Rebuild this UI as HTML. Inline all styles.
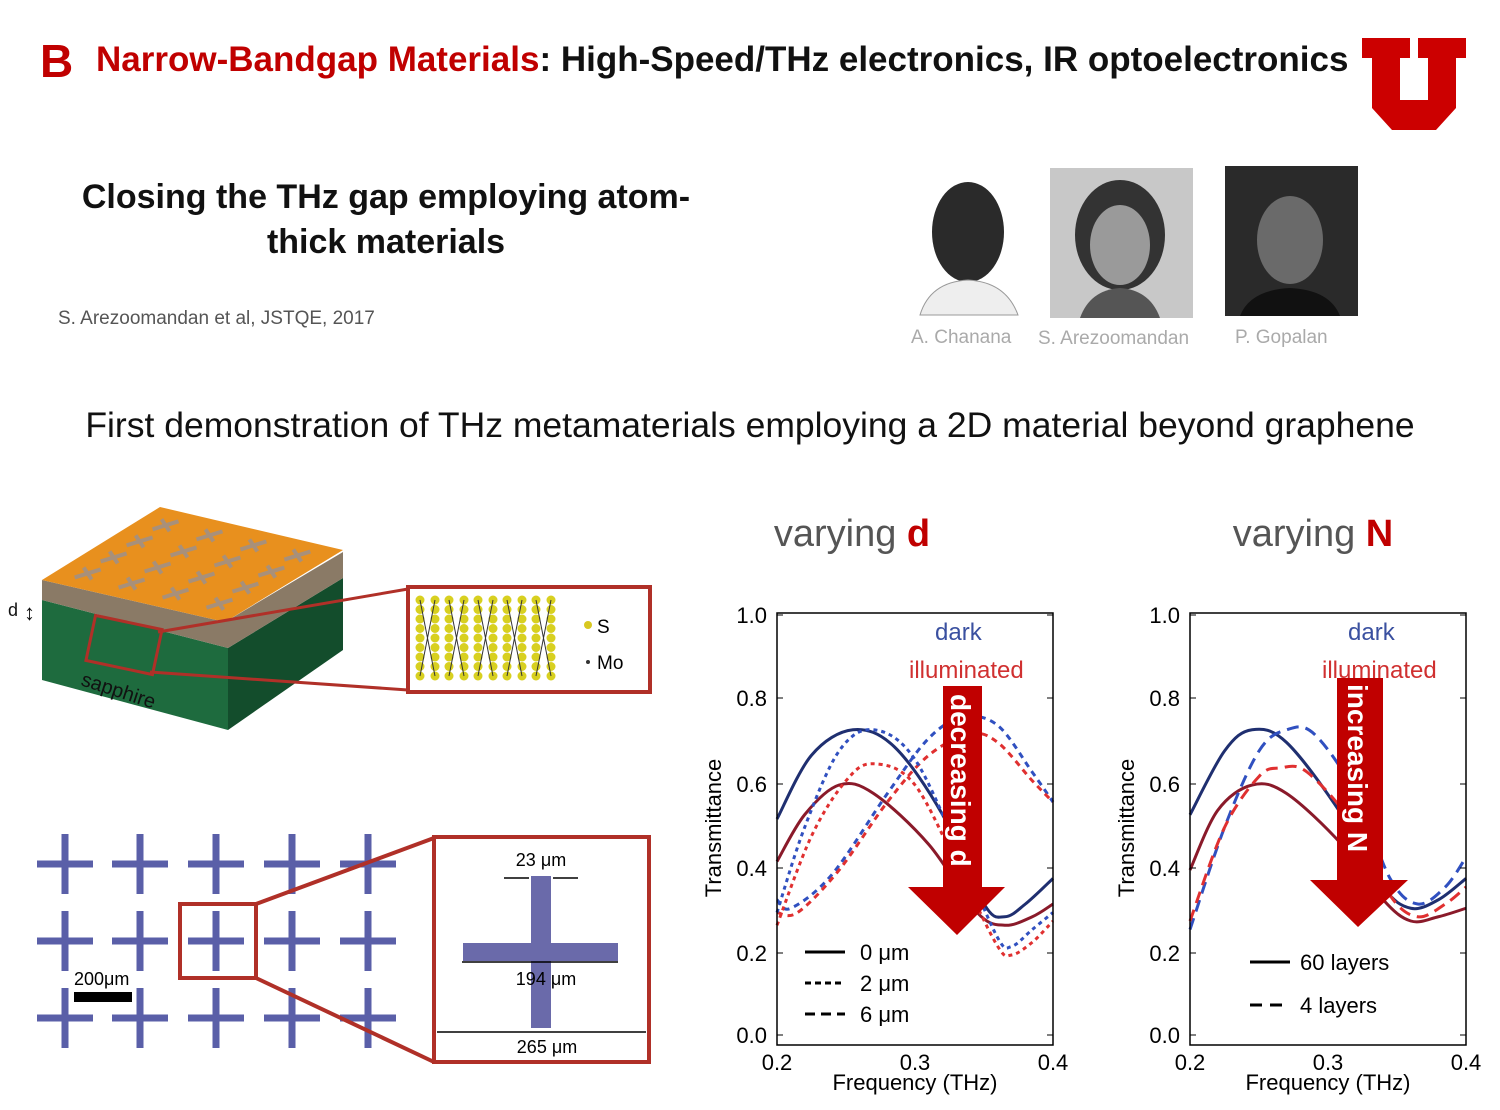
<!DOCTYPE html>
<html><head><meta charset="utf-8"><style>
html,body{margin:0;padding:0;background:#fff}
svg{display:block}
text{font-family:"Liberation Sans",sans-serif}
</style></head><body>
<svg id="s" width="1500" height="1110" viewBox="0 0 1500 1110" xmlns="http://www.w3.org/2000/svg">
<!-- header -->
<text x="40" y="77" font-size="46" font-weight="bold" fill="#c00000">B</text>
<text x="96" y="71" font-size="35" font-weight="bold"><tspan fill="#c00000">Narrow-Bandgap Materials</tspan><tspan fill="#111">: High-Speed/THz electronics, IR optoelectronics</tspan></text>
<!-- U logo -->
<path d="M1362 38 H1410 V58 H1400 V100 H1428 V58 H1418 V38 H1466 V58 H1456 V108 L1436 130 H1392 L1372 108 V58 H1362 Z" fill="#cc0000"/>
<text x="386" y="208" font-size="34" font-weight="bold" text-anchor="middle" fill="#111">Closing the THz gap employing atom-</text>
<text x="386" y="253" font-size="34" font-weight="bold" text-anchor="middle" fill="#111">thick materials</text>
<text x="58" y="324" font-size="19" fill="#555">S. Arezoomandan et al, JSTQE, 2017</text>
<!-- photos -->
<ellipse cx="968" cy="232" rx="36" ry="50" fill="#2a2a2a"/>
<path d="M920 315 Q930 282 968 280 Q1006 282 1018 315 Z" fill="#eee" stroke="#999"/>
<rect x="1050" y="168" width="143" height="150" fill="#c8c8c8"/>
<ellipse cx="1120" cy="235" rx="45" ry="55" fill="#333"/>
<ellipse cx="1120" cy="245" rx="30" ry="40" fill="#9a9a9a"/>
<path d="M1080 318 Q1090 290 1120 288 Q1150 290 1160 318Z" fill="#555"/>
<rect x="1225" y="166" width="133" height="150" fill="#2a2a2a"/>
<ellipse cx="1290" cy="240" rx="33" ry="44" fill="#6a6a6a"/>
<path d="M1240 316 Q1250 290 1290 288 Q1330 290 1340 316Z" fill="#111"/>
<text x="911" y="343" font-size="19" fill="#aaa">A. Chanana</text>
<text x="1038" y="344" font-size="19" fill="#aaa">S. Arezoomandan</text>
<text x="1235" y="343" font-size="19" fill="#aaa">P. Gopalan</text>
<text x="750" y="437" font-size="35.5" text-anchor="middle" fill="#111">First demonstration of THz metamaterials employing a 2D material beyond graphene</text>
<!-- 3D device -->
<path d="M42 600 L228 648 L228 730 L42 680Z" fill="#1e6b3e"/>
<path d="M228 648 L343 578 L343 650 L228 730Z" fill="#134d2c"/>
<path d="M42 580 L42 600 L228 648 L343 578 L343 552 L225 622Z" fill="#8a7a66"/>
<path d="M42 580 L160 507 L343 550 L225 622Z" fill="#e8901e"/>
<g id="cr3"></g>
<text x="80" y="685" font-size="20" fill="#111" transform="rotate(18 80 685)">sapphire</text>
<text x="8" y="616" font-size="18" fill="#111">d</text>
<text x="24" y="620" font-size="22" fill="#111">↕</text>
<rect x="90" y="622" width="68" height="46" fill="none" stroke="#b03028" stroke-width="3" transform="rotate(12 124 645)"/>
<line x1="158" y1="632" x2="408" y2="589" stroke="#b03028" stroke-width="3"/>
<line x1="150" y1="672" x2="408" y2="690" stroke="#b03028" stroke-width="3"/>
<rect x="408" y="587" width="242" height="105" fill="#fff" stroke="#b03028" stroke-width="4"/>
<g id="mos"></g>
<circle cx="588" cy="625" r="4" fill="#d8c820"/><text x="597" y="633" font-size="19">S</text>
<circle cx="588" cy="662" r="2" fill="#333"/><text x="597" y="669" font-size="19">Mo</text>
<!-- crosses -->
<g id="crosses" stroke="#5a5fa8" stroke-width="7"></g>
<rect x="180" y="904" width="76" height="74" fill="none" stroke="#b03028" stroke-width="4"/>
<line x1="256" y1="904" x2="434" y2="838" stroke="#b03028" stroke-width="4"/>
<line x1="256" y1="978" x2="434" y2="1062" stroke="#b03028" stroke-width="4"/>
<rect x="434" y="837" width="215" height="225" fill="#fff" stroke="#b03028" stroke-width="4"/>
<rect x="531" y="876" width="20" height="152" fill="#6a6aaa"/>
<rect x="463" y="943" width="155" height="18" fill="#6a6aaa"/>
<text x="541" y="866" font-size="18" text-anchor="middle">23 μm</text>
<line x1="504" y1="878" x2="529" y2="878" stroke="#000" stroke-width="1.5"/><line x1="553" y1="878" x2="578" y2="878" stroke="#000" stroke-width="1.5"/>
<line x1="462" y1="962" x2="618" y2="962" stroke="#000" stroke-width="1.5"/>
<text x="546" y="985" font-size="18" text-anchor="middle">194 μm</text>
<line x1="437" y1="1032" x2="646" y2="1032" stroke="#000" stroke-width="1.5"/>
<text x="547" y="1053" font-size="18" text-anchor="middle">265 μm</text>
<text x="74" y="985" font-size="18">200μm</text>
<rect x="74" y="992" width="58" height="10" fill="#000"/>
<!-- chart titles -->
<text x="852" y="546" font-size="38" text-anchor="middle" fill="#555">varying <tspan fill="#c00000" font-weight="bold">d</tspan></text>
<text x="1313" y="546" font-size="38" text-anchor="middle" fill="#555">varying <tspan fill="#c00000" font-weight="bold">N</tspan></text>
<g id="plots"></g>
</svg>
<script>
const NS="http://www.w3.org/2000/svg";
function el(p,t,a,txt){const e=document.createElementNS(NS,t);for(const k in a)e.setAttribute(k,a[k]);if(txt!==undefined)e.textContent=txt;p.appendChild(e);return e;}
// top crosses on 3D face: L=(42,580), B=(160,507), F=(225,622)
const c3=document.getElementById('cr3');
for(let i=0;i<4;i++)for(let j=0;j<4;j++){
 const u=0.17+i*0.22, v=0.14+j*0.24;
 const x=42+u*118+v*183, y=580-u*73+v*42;
 el(c3,'path',{d:`M${x-13} ${y+4} L${x+13} ${y-4} M${x-4} ${y-6} L${x+4} ${y+6}`,stroke:'#a8907a','stroke-width':4});
}
// MoS2
const m=document.getElementById('mos');
for(let i=0;i<5;i++){const x=420+i*29;
 for(let k=0;k<9;k++){el(m,'circle',{cx:x,cy:600+k*9.5,r:4.5,fill:'#d8d020'});el(m,'circle',{cx:x+15,cy:600+k*9.5,r:4.5,fill:'#d8d020'});}
 el(m,'path',{d:`M${x} 600 L${x+15} 676 M${x+15} 600 L${x} 676`,stroke:'#333','stroke-width':1});}
// crosses
const cg=document.getElementById('crosses');
for(const cx of [65,140,216,292,368])for(const cy of [864,941,1018]){
 el(cg,'path',{d:`M${cx-28} ${cy} H${cx+28} M${cx} ${cy-30} V${cy+30}`});}
// plots
const P=document.getElementById('plots');
function smooth(pts){let d=`M${pts[0][0]} ${pts[0][1]}`;for(let i=0;i<pts.length-1;i++){const p0=pts[i-1]||pts[i],p1=pts[i],p2=pts[i+1],p3=pts[i+2]||p2;
 d+=` C${p1[0]+(p2[0]-p0[0])/6} ${p1[1]+(p2[1]-p0[1])/6} ${p2[0]-(p3[0]-p1[0])/6} ${p2[1]-(p3[1]-p1[1])/6} ${p2[0]} ${p2[1]}`;}return d;}
function plot(X0,curves,title){
 const X=f=>X0+(f-0.2)*1380, Y=t=>1040-t*425;
 const g=el(P,'g',{});
 for(const c of curves){el(g,'path',{d:smooth(c.p.map(q=>[X(q[0]),Y(q[1])])),fill:'none',stroke:c.c,'stroke-width':3,'stroke-dasharray':c.d||''});}
 el(g,'rect',{x:X0,y:613,width:276,height:432,fill:'none',stroke:'#000','stroke-width':1.5});
 [[1.0,615],[0.8,698],[0.6,784],[0.4,868],[0.2,953],[0.0,1035]].forEach(([v,y])=>{
  el(g,'text',{x:X0-10,y:y+8,'font-size':22,'text-anchor':'end'},v.toFixed(1));
  el(g,'line',{x1:X0,y1:y,x2:X0+6,y2:y,stroke:'#000'});el(g,'line',{x1:X0+270,y1:y,x2:X0+276,y2:y,stroke:'#000'});});
 [[0.2,0],[0.3,138],[0.4,276]].forEach(([v,dx])=>el(g,'text',{x:X0+dx,y:1070,'font-size':22,'text-anchor':'middle'},v.toFixed(1)));
 el(g,'text',{x:X0+138,y:1090,'font-size':22,'text-anchor':'middle'},'Frequency (THz)');
 el(g,'text',{x:0,y:0,'font-size':22,'text-anchor':'middle',transform:`translate(${X0-56} 828) rotate(-90)`},'Transmittance');
 el(g,'text',{x:X0+158,y:640,'font-size':24,fill:'#3a50a0'},'dark');
 el(g,'text',{x:X0+132,y:678,'font-size':24,fill:'#d03030'},'illuminated');
 return {g,X,Y};
}
const B='#1f2f70',R='#8a1a2a',bl='#3050c0',rd='#e03030';
const a=plot(777,[
 {c:B,p:[[0.2,0.52],[0.225,0.67],[0.255,0.73],[0.285,0.69],[0.32,0.53],[0.35,0.32],[0.365,0.29],[0.38,0.32],[0.4,0.38]]},
 {c:R,p:[[0.2,0.42],[0.22,0.53],[0.245,0.6],[0.27,0.58],[0.31,0.46],[0.345,0.3],[0.365,0.27],[0.385,0.29],[0.4,0.32]]},
 {c:bl,d:'6 5',p:[[0.2,0.33],[0.21,0.31],[0.24,0.39],[0.28,0.58],[0.31,0.71],[0.335,0.76],[0.36,0.74],[0.385,0.63],[0.4,0.56]]},
 {c:rd,d:'6 5',p:[[0.2,0.3],[0.215,0.3],[0.245,0.4],[0.28,0.56],[0.31,0.67],[0.34,0.72],[0.36,0.7],[0.385,0.61],[0.4,0.56]]},
 {c:bl,d:'4 4',p:[[0.2,0.3],[0.22,0.5],[0.245,0.68],[0.27,0.73],[0.3,0.66],[0.335,0.42],[0.36,0.24],[0.37,0.22],[0.385,0.26],[0.4,0.3]]},
 {c:rd,d:'4 4',p:[[0.2,0.27],[0.225,0.48],[0.25,0.61],[0.27,0.65],[0.3,0.6],[0.335,0.38],[0.36,0.22],[0.37,0.2],[0.385,0.23],[0.4,0.28]]},
],'d');
el(a.g,'path',{d:'M943 686 H982 V887 H1005 L957 935 L908 887 H943 Z',fill:'#c00000'});
el(a.g,'text',{x:0,y:0,'font-size':28,'font-weight':'bold',fill:'#fff',transform:'translate(951 694) rotate(90)'},'decreasing d');
[['0 μm',956,''],['2 μm',987,'6 4'],['6 μm',1018,'10 6']].forEach(([t,y,d])=>{el(a.g,'line',{x1:805,x2:845,y1:y-4,y2:y-4,stroke:'#000','stroke-width':3,'stroke-dasharray':d});el(a.g,'text',{x:860,y:y+4,'font-size':22},t);});
const b=plot(1190,[
 {c:B,p:[[0.2,0.53],[0.225,0.68],[0.245,0.73],[0.27,0.7],[0.31,0.53],[0.34,0.36],[0.36,0.31],[0.38,0.33],[0.4,0.38]]},
 {c:R,p:[[0.2,0.4],[0.22,0.54],[0.245,0.6],[0.27,0.58],[0.31,0.46],[0.34,0.33],[0.36,0.28],[0.38,0.29],[0.4,0.31]]},
 {c:bl,d:'12 7',p:[[0.2,0.26],[0.225,0.5],[0.25,0.68],[0.27,0.73],[0.29,0.72],[0.32,0.58],[0.345,0.38],[0.365,0.32],[0.385,0.36],[0.4,0.43]]},
 {c:rd,d:'12 7',p:[[0.2,0.28],[0.225,0.5],[0.25,0.62],[0.265,0.64],[0.285,0.63],[0.32,0.5],[0.345,0.34],[0.365,0.29],[0.385,0.32],[0.4,0.36]]},
],'N');
el(b.g,'path',{d:'M1337 678 H1383 V880 H1408 L1358 927 L1310 880 H1337 Z',fill:'#c00000'});
el(b.g,'text',{x:0,y:0,'font-size':28,'font-weight':'bold',fill:'#fff',transform:'translate(1348 684) rotate(90)'},'increasing N');
[['60 layers',966,''],['4 layers',1009,'12 8']].forEach(([t,y,d])=>{el(b.g,'line',{x1:1250,x2:1290,y1:y-4,y2:y-4,stroke:'#000','stroke-width':3,'stroke-dasharray':d});el(b.g,'text',{x:1300,y:y+4,'font-size':22},t);});
</script>
</body></html>
